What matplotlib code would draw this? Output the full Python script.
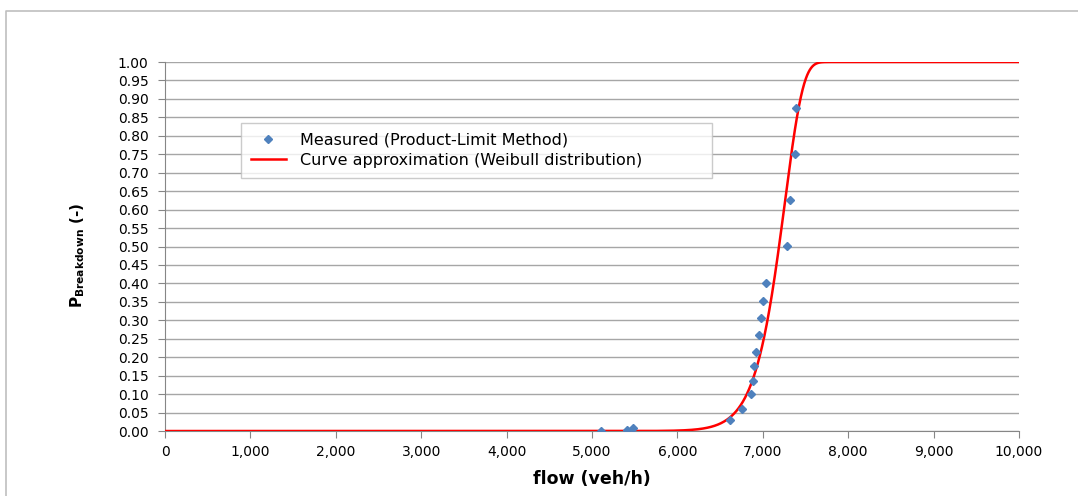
import numpy as np
import matplotlib.pyplot as plt
from matplotlib.lines import Line2D

# measured breakdown probabilities (product-limit method)
flow_measured = [5110, 5405, 5485, 6612, 6760, 6862, 6882, 6901, 6920,
                 6959, 6983, 7002, 7034, 7287, 7322, 7373, 7385]
p_measured = [0.000, 0.004, 0.007, 0.031, 0.060, 0.099, 0.136, 0.175, 0.213,
              0.260, 0.306, 0.352, 0.402, 0.501, 0.625, 0.750, 0.874]

# Weibull fit parameters
weibull_scale = 7265.0
weibull_shape = 35.0

x_ticks = list(range(0, 10001, 1000))
y_ticks = [i * 0.05 for i in range(21)]

grid_gray = "#a6a6a6"
point_blue = "#4f81bd"


def weibull_cdf(x, scale, shape):
    return 1.0 - np.exp(-(x / scale) ** shape)


def main():
    fig = plt.figure(figsize=(10.78, 4.96), dpi=100)
    ax = fig.add_axes([0.1531, 0.131, 0.7922, 0.744])

    # outer chart frame (only top and left edges visible)
    fig.add_artist(Line2D([6 / 1078, 6 / 1078, 1.0], [0.0, 1 - 11 / 496, 1 - 11 / 496],
                          transform=fig.transFigure, color="#bfbfbf", lw=1.2))

    flow = np.linspace(0, 10000, 2001)
    ax.plot(flow, weibull_cdf(flow, weibull_scale, weibull_shape),
            color="red", lw=1.8, zorder=3,
            label="Curve approximation (Weibull distribution)")
    ax.plot(flow_measured, p_measured, linestyle="none", marker="D",
            markersize=4.5, color=point_blue, zorder=4,
            label="Measured (Product-Limit Method)")

    ax.set_xlim(0, 10000)
    ax.set_ylim(0, 1)
    ax.set_xticks(x_ticks)
    ax.set_xticklabels(["{:,}".format(v) for v in x_ticks])
    ax.set_yticks(y_ticks)
    ax.set_yticklabels(["{:.2f}".format(v) for v in y_ticks])
    ax.yaxis.grid(True, color=grid_gray, lw=1.0)
    ax.set_axisbelow(True)

    for side in ["top", "right"]:
        ax.spines[side].set_visible(False)
    for side in ["left", "bottom"]:
        ax.spines[side].set_color("#868686")
    ax.tick_params(axis="both", colors="#868686", labelcolor="black",
                   labelsize=10, length=5, direction="out")
    ax.tick_params(axis="x", pad=5)
    ax.tick_params(axis="y", pad=7)

    ax.set_xlabel("flow (veh/h)", fontsize=12.5, fontweight="bold", labelpad=8)
    ax.set_ylabel(r"$\mathbf{P}_{\mathbf{Breakdown}}$ (-)",
                  fontsize=11, fontweight="bold")
    ax.yaxis.set_label_coords(-0.0913, 0.477)

    handles, labels = ax.get_legend_handles_labels()
    leg = ax.legend(handles[::-1], labels[::-1], loc="upper left",
                    bbox_to_anchor=(0.089, 0.683, 0.5515, 0.152),
                    mode="expand", fontsize=11.5,
                    frameon=True, fancybox=False, borderpad=0.6,
                    handlelength=2.2, handletextpad=0.9,
                    labelspacing=0.35, borderaxespad=0)
    leg.get_frame().set_edgecolor("#bfbfbf")
    leg.get_frame().set_linewidth(1.0)

    fig.savefig("out.png", dpi=100)


if __name__ == "__main__":
    main()
